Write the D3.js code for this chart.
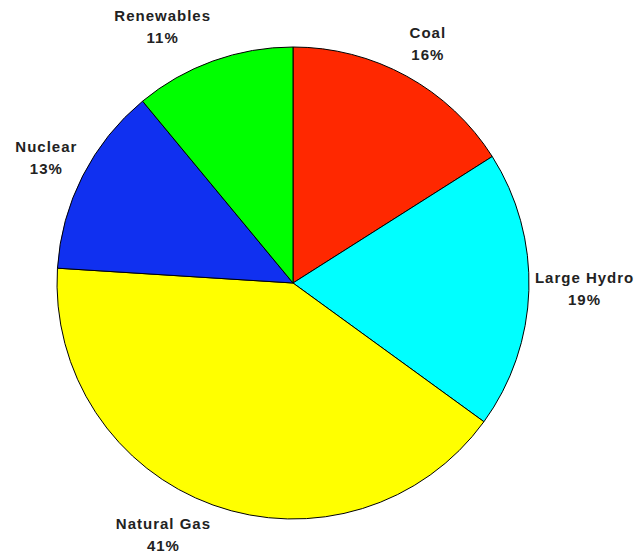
<!DOCTYPE html>
<html>
<head>
<meta charset="utf-8">
<script src="https://cdn.jsdelivr.net/npm/d3@7"></script>
<style>
  html, body { margin: 0; padding: 0; background: #ffffff; }
  svg { display: block; }
</style>
</head>
<body>
<svg id="chart" width="640" height="558"></svg>
<script>
const categories = ["Coal", "Large Hydro", "Natural Gas", "Nuclear", "Renewables"];
const values = [16, 19, 41, 13, 11];
const labels = ["16%", "19%", "41%", "13%", "11%"];
const colors = ["#ff2800", "#00ffff", "#ffff00", "#1030f0", "#00ff00"];

const svg = d3.select("#chart");
const cx = 293, cy = 283, R = 236;
const g = svg.append("g").attr("transform", `translate(${cx},${cy})`);

const pie = d3.pie().sort(null).value(d => d)(values);
const arc = d3.arc().innerRadius(0).outerRadius(R);

g.selectAll("path.slice")
  .data(pie)
  .join("path")
  .attr("class", "slice")
  .attr("d", arc)
  .attr("fill", (d, i) => colors[i])
  .attr("stroke", "#000")
  .attr("stroke-width", 1);

const labelR = 242;
const boxH = 48;
pie.forEach((d, i) => {
  const a = (d.startAngle + d.endAngle) / 2;
  const dx = Math.sin(a), dy = -Math.cos(a);
  const px = labelR * dx, py = 246 * dy;
  const anchor = dx > 0.15 ? "start" : (dx < -0.15 ? "end" : "middle");
  const yc = py + dy * boxH / 2;
  const t = g.append("text")
    .attr("text-anchor", anchor)
    .attr("font-family", "Arial, 'Liberation Sans', sans-serif")
    .attr("font-weight", "bold")
    .attr("font-size", 15)
    .attr("letter-spacing", 1)
    .attr("fill", "#222");
  t.append("tspan").attr("x", px).attr("y", yc - 8).text(categories[i]);
  t.append("tspan").attr("x", px).attr("y", yc + 14).text(labels[i]);
  const w = t.node().getBBox().width;
  const center = anchor === "start" ? px + w / 2 : (anchor === "end" ? px - w / 2 : px);
  t.attr("text-anchor", "middle");
  t.selectAll("tspan").attr("x", center);
});
</script>
</body>
</html>
